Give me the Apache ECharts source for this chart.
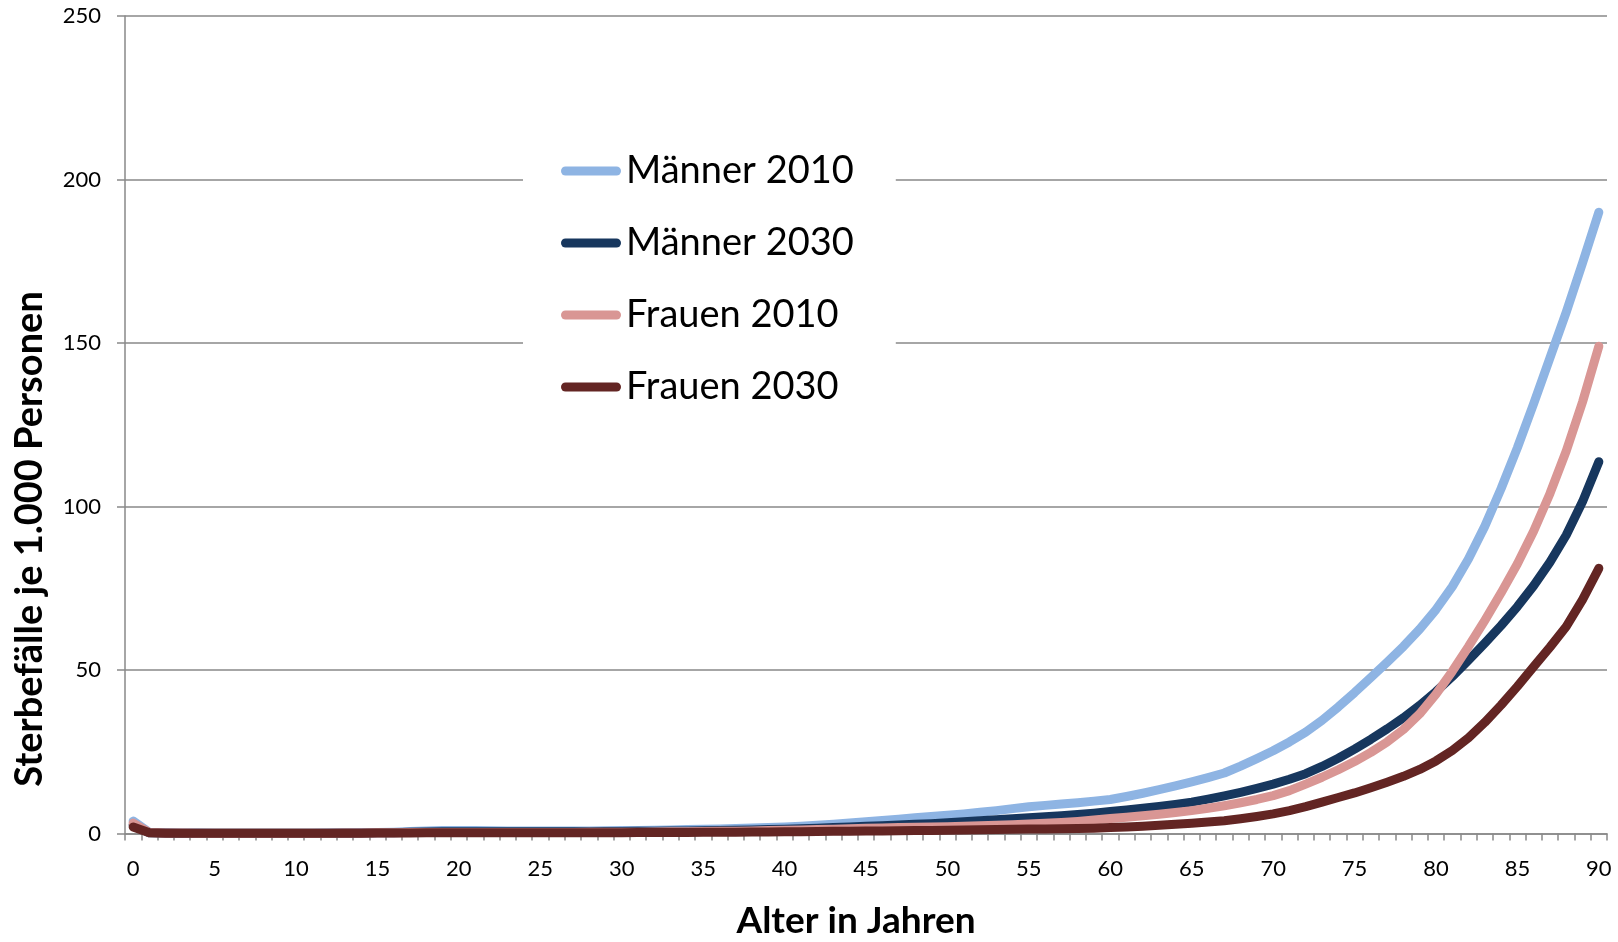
<!DOCTYPE html>
<html>
<head>
<meta charset="utf-8">
<script src="https://cdn.jsdelivr.net/npm/echarts@6/dist/echarts.min.js"></script>
<style>
html,body{margin:0;padding:0;background:#fff;}
#chart{width:1618px;height:942px;}
</style>
</head>
<body>
<div id="chart"></div>
<script>
// Alter in Jahren (0..90)
const ages = [];
for (let a = 0; a <= 90; a++) ages.push(String(a));

const yTicks = [0, 50, 100, 150, 200, 250];

const seriesNames = ['Männer 2010', 'Männer 2030', 'Frauen 2010', 'Frauen 2030'];
const seriesColors = ['#8EB4E3', '#17375E', '#D99694', '#632523'];

// Sterbefälle je 1.000 Personen, Alter 0..90
const maenner2010 = [
  3.8, 0.35, 0.2, 0.15, 0.12, 0.1, 0.1, 0.1, 0.1, 0.1,
  0.1, 0.1, 0.12, 0.15, 0.2, 0.3, 0.4, 0.6, 0.8, 0.9,
  0.9, 0.9, 0.85, 0.8, 0.8, 0.8, 0.8, 0.8, 0.8, 0.85,
  0.9, 0.95, 1.0, 1.1, 1.2, 1.3, 1.4, 1.5, 1.65, 1.8,
  2.0, 2.2, 2.5, 2.8, 3.2, 3.6, 4.0, 4.4, 4.8, 5.2,
  5.6, 6.0, 6.5, 7.0, 7.6, 8.2, 8.6, 9.0, 9.4, 9.9,
  10.4, 11.3, 12.3, 13.4, 14.6, 15.8, 17.1, 18.5, 20.6, 22.9,
  25.3, 28.0, 31.0, 34.6, 38.7, 43.1, 47.7, 52.4, 57.2, 62.5,
  68.5, 75.5, 84.0, 94.0, 105.5, 118.0, 131.5, 145.5, 159.5, 174.5,
  190.0
];
const maenner2030 = [
  2.6, 0.2, 0.12, 0.1, 0.1, 0.1, 0.1, 0.1, 0.1, 0.1,
  0.1, 0.1, 0.1, 0.12, 0.15, 0.2, 0.25, 0.35, 0.45, 0.5,
  0.5, 0.5, 0.5, 0.5, 0.5, 0.5, 0.5, 0.5, 0.55, 0.6,
  0.6, 0.65, 0.7, 0.75, 0.8, 0.85, 0.9, 1.0, 1.1, 1.2,
  1.3, 1.45, 1.6, 1.8, 2.0, 2.2, 2.4, 2.6, 2.8, 3.0,
  3.3, 3.6, 3.9, 4.2, 4.5, 4.8, 5.1, 5.4, 5.8, 6.2,
  6.7, 7.2, 7.7, 8.3, 8.9, 9.6, 10.5, 11.5, 12.6, 13.8,
  15.1, 16.6, 18.3, 20.5, 23.0, 25.8, 28.8, 32.0, 35.4, 39.2,
  43.4, 48.0, 53.0, 58.2, 63.6, 69.4, 75.8, 83.0, 91.3, 101.5,
  113.7
];
const frauen2010 = [
  3.2, 0.3, 0.15, 0.12, 0.1, 0.1, 0.1, 0.1, 0.1, 0.1,
  0.1, 0.1, 0.1, 0.12, 0.15, 0.2, 0.25, 0.3, 0.3, 0.3,
  0.3, 0.3, 0.3, 0.3, 0.3, 0.3, 0.3, 0.3, 0.35, 0.35,
  0.4, 0.4, 0.45, 0.5, 0.55, 0.6, 0.65, 0.7, 0.8, 0.9,
  1.0, 1.1, 1.2, 1.3, 1.45, 1.6, 1.7, 1.8, 1.9, 2.0,
  2.1, 2.25, 2.4, 2.55, 2.7, 2.9, 3.1, 3.4, 3.7, 4.1,
  4.6, 5.0, 5.4, 5.9, 6.4, 7.0, 7.7, 8.5, 9.4, 10.4,
  11.6, 13.1, 15.1, 17.2, 19.5, 22.0, 24.8, 28.0, 31.8, 36.6,
  42.6, 49.6, 57.2, 65.2, 73.6, 82.5, 92.5, 104.0, 117.0, 132.0,
  149.0
];
const frauen2030 = [
  2.0, 0.2, 0.1, 0.1, 0.08, 0.08, 0.08, 0.08, 0.08, 0.08,
  0.08, 0.08, 0.08, 0.09, 0.1, 0.12, 0.15, 0.18, 0.2, 0.2,
  0.2, 0.2, 0.2, 0.2, 0.2, 0.2, 0.2, 0.22, 0.23, 0.24,
  0.25, 0.27, 0.29, 0.31, 0.33, 0.35, 0.38, 0.41, 0.44, 0.47,
  0.5, 0.55, 0.6, 0.65, 0.7, 0.75, 0.8, 0.85, 0.9, 0.95,
  1.0, 1.07, 1.14, 1.21, 1.28, 1.35, 1.4, 1.45, 1.5, 1.6,
  1.8, 2.0, 2.2, 2.5, 2.8, 3.1, 3.5, 3.9, 4.5, 5.2,
  6.0, 7.0, 8.2, 9.6, 11.0, 12.4, 14.0, 15.7, 17.5, 19.6,
  22.2, 25.4, 29.3, 34.0, 39.3, 45.0, 51.0, 57.0, 63.3, 71.5,
  81.1
];

const xTitle = 'Alter in Jahren';
const yTitle = 'Sterbefälle je 1.000 Personen';

const seriesData = [maenner2010, maenner2030, frauen2010, frauen2030];
const GRAY = '#898989';
const FONT = 'Lato';

const chart = echarts.init(document.getElementById('chart'), null, {renderer: 'canvas'});
const capsule = 'path://M4.5,0 L55.5,0 A4.5,4.5 0 0 1 55.5,9 L4.5,9 A4.5,4.5 0 0 1 4.5,0 Z';

chart.setOption({
  animation: false,
  backgroundColor: '#fff',
  grid: {left: 125, top: 16, width: 1482, height: 817.5, containLabel: false},
  xAxis: {
    type: 'category',
    data: ages,
    boundaryGap: true,
    axisLine: {show: true, lineStyle: {color: GRAY, width: 1.5}},
    axisTick: {show: true, interval: 0, length: 7, lineStyle: {color: GRAY, width: 1.5}},
    axisLabel: {interval: 4, color: '#000', fontFamily: FONT, fontSize: 22, margin: 24},
    splitLine: {show: false}
  },
  yAxis: {
    type: 'value',
    min: yTicks[0], max: yTicks[yTicks.length - 1], interval: 50,
    axisLine: {show: true, lineStyle: {color: GRAY, width: 1.5}},
    axisTick: {show: true, length: 8, lineStyle: {color: GRAY, width: 1.5}},
    axisLabel: {color: '#000', fontFamily: FONT, fontSize: 22, margin: 24},
    splitLine: {show: true, lineStyle: {color: GRAY, width: 1.5}}
  },
  legend: {
    orient: 'vertical',
    left: 523, top: 136,
    backgroundColor: '#fff',
    padding: [14, 42, 14, 38],
    itemWidth: 60, itemHeight: 9,
    itemGap: 30,
    icon: capsule,
    textStyle: {fontFamily: FONT, fontSize: 38, color: '#000', lineHeight: 42},
    data: seriesNames
  },
  graphic: [
    {type: 'text', x: 856, y: 921, style: {text: xTitle, font: 'bold 37px Lato', fill: '#000', align: 'center', verticalAlign: 'middle'}},
    {type: 'text', rotation: Math.PI / 2, x: 30, y: 539, style: {text: yTitle, font: 'bold 38px Lato', fill: '#000', align: 'center', verticalAlign: 'middle'}}
  ],
  series: seriesNames.map((n, i) => ({
    name: n,
    type: 'line',
    data: seriesData[i],
    showSymbol: false,
    symbol: 'none',
    smooth: false,
    color: seriesColors[i],
    lineStyle: {width: 9, color: seriesColors[i], cap: 'round', join: 'round'},
    z: 2 + i
  }))
});
</script>
</body>
</html>
